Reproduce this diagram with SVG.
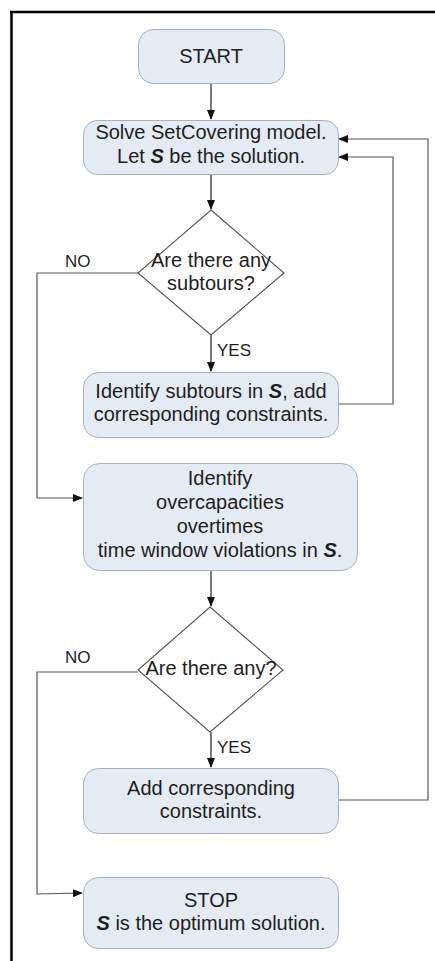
<svg xmlns="http://www.w3.org/2000/svg" width="435" height="961" viewBox="0 0 435 961">
  <style>
    .box { fill: #e5ebf5; stroke: #a9b0bb; stroke-width: 1; }
    .dia { fill: #ffffff; stroke: #555555; stroke-width: 1.1; }
    .txt { font-family: "Liberation Sans", Arial, sans-serif; font-size: 20px; fill: #1e1e1e; text-anchor: middle; }
    .lbl { font-family: "Liberation Sans", Arial, sans-serif; font-size: 17px; fill: #1e1e1e; }
    .flow { fill: none; stroke: #222222; stroke-width: 1.2; }
    .loop { fill: none; stroke: #555555; stroke-width: 1.2; }
    .s { font-weight: bold; font-style: italic; }
  </style>
  <defs>
    <marker id="arrow" markerWidth="10" markerHeight="8" refX="9" refY="4" orient="auto" markerUnits="userSpaceOnUse">
      <path d="M0,0 L10,4 L0,8 Z" fill="#111111"/>
    </marker>
  </defs>

  <!-- frame -->
  <g id="frame">
    <line x1="10" y1="12" x2="435" y2="12" stroke="#000" stroke-width="2.5"/>
    <line x1="11.5" y1="11" x2="11.5" y2="961" stroke="#000" stroke-width="2.5"/>
  </g>

  <!-- connectors -->
  <g id="connectors">
    <line class="flow" x1="211" y1="83" x2="211" y2="119" marker-end="url(#arrow)"/>
    <line class="flow" x1="211" y1="174" x2="211" y2="209" marker-end="url(#arrow)"/>
    <line class="flow" x1="211" y1="335" x2="211" y2="371" marker-end="url(#arrow)"/>
    <line class="flow" x1="211" y1="570" x2="211" y2="606" marker-end="url(#arrow)"/>
    <line class="flow" x1="211" y1="732" x2="211" y2="767" marker-end="url(#arrow)"/>
    <!-- NO branch of first decision -->
    <polyline class="loop" points="138,273 37,273 37,498 82,498" marker-end="url(#arrow)"/>
    <!-- NO branch of second decision -->
    <polyline class="loop" points="138,672 37,672 37,894 82,893" marker-end="url(#arrow)"/>
    <!-- feedback from subtour constraints -->
    <polyline class="loop" points="338,404 393,404 393,157 339,157" marker-end="url(#arrow)"/>
    <!-- feedback from added constraints -->
    <polyline class="loop" points="338,800 428,800 428,139 339,139" marker-end="url(#arrow)"/>
    <text class="lbl" x="65" y="267">NO</text>
    <text class="lbl" x="217" y="356">YES</text>
    <text class="lbl" x="65" y="663">NO</text>
    <text class="lbl" x="217" y="753">YES</text>
  </g>

  <g id="start">
    <rect class="box" x="138.5" y="29.5" width="146" height="54" rx="15"/>
    <text class="txt" x="211" y="63">START</text>
  </g>

  <g id="solve">
    <rect class="box" x="83.5" y="120.5" width="255" height="54" rx="14"/>
    <text class="txt" x="211" y="139">Solve SetCovering model.</text>
    <text class="txt" x="211" y="163">Let <tspan class="s">S</tspan> be the solution.</text>
  </g>

  <g id="subtours-check">
    <polygon class="dia" points="211,210 284,273 211,335 138,273"/>
    <text class="txt" x="211" y="267">Are there any</text>
    <text class="txt" x="211" y="290">subtours?</text>
  </g>

  <g id="subtour-cuts">
    <rect class="box" x="83.5" y="372.5" width="255" height="65" rx="15"/>
    <text class="txt" x="211" y="398">Identify subtours in <tspan class="s">S</tspan>, add</text>
    <text class="txt" x="211" y="421">corresponding constraints.</text>
  </g>

  <g id="violations">
    <rect class="box" x="83.5" y="463.5" width="274" height="107" rx="16"/>
    <text class="txt" x="220" y="485">Identify</text>
    <text class="txt" x="220" y="509">overcapacities</text>
    <text class="txt" x="220" y="533">overtimes</text>
    <text class="txt" x="220" y="557">time window violations in <tspan class="s">S</tspan>.</text>
  </g>

  <g id="violations-check">
    <polygon class="dia" points="210,607 283,670 210,732 138,670"/>
    <text class="txt" x="211" y="675">Are there any?</text>
  </g>

  <g id="add-constraints">
    <rect class="box" x="83.5" y="768.5" width="255" height="65" rx="15"/>
    <text class="txt" x="211" y="795">Add corresponding</text>
    <text class="txt" x="211" y="818">constraints.</text>
  </g>

  <g id="stop">
    <rect class="box" x="83.5" y="877.5" width="255" height="71" rx="15"/>
    <text class="txt" x="211" y="907">STOP</text>
    <text class="txt" x="211" y="930"><tspan class="s">S</tspan> is the optimum solution.</text>
  </g>
</svg>
